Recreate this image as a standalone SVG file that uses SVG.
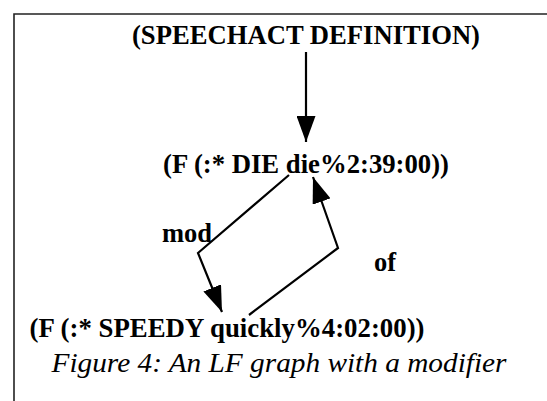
<svg xmlns="http://www.w3.org/2000/svg" width="547" height="401" viewBox="0 0 547 401">
  <defs>
    <style>
      .node { font-family: "Liberation Serif", serif; font-weight: bold; font-size: 26.5px; fill: #000; }
      .label { font-family: "Liberation Serif", serif; font-weight: bold; font-size: 26.5px; fill: #000; }
      .caption { font-family: "Liberation Serif", serif; font-style: italic; font-size: 28px; fill: #000; }
      .edge { fill: none; stroke: #000; stroke-width: 2.2; }
      .frame { fill: none; stroke: #222; stroke-width: 1.6; }
    </style>
    <marker id="head" viewBox="0 0 26 19" refX="26" refY="9.5" markerWidth="26" markerHeight="19" markerUnits="userSpaceOnUse" orient="auto">
      <path d="M0,0 L26,9.5 L0,19 z" fill="#000"/>
    </marker>
  </defs>

  <!-- frame -->
  <path class="frame" d="M14,401 L14,14 L547,14"/>

  <!-- nodes -->
  <g id="speechact">
    <text class="node" x="306" y="44" text-anchor="middle" textLength="348" lengthAdjust="spacingAndGlyphs">(SPEECHACT DEFINITION)</text>
  </g>
  <g id="die">
    <text class="node" x="306" y="173" text-anchor="middle" textLength="286" lengthAdjust="spacingAndGlyphs">(F (:* DIE die%2:39:00))</text>
  </g>
  <g id="speedy">
    <text class="node" x="29.5" y="336.5" textLength="395" lengthAdjust="spacingAndGlyphs">(F (:* SPEEDY quickly%4:02:00))</text>
  </g>

  <!-- connectors -->
  <g id="edges">
    <path class="edge" d="M306,52 L306,142" marker-end="url(#head)"/>
    <path class="edge" d="M289,175 L198,253 L222,312" marker-end="url(#head)"/>
    <path class="edge" d="M249,315 L338,248 L313,177" marker-end="url(#head)"/>
    <text class="label" x="162" y="241.5">mod</text>
    <text class="label" x="374" y="271">of</text>
  </g>

  <!-- caption -->
  <text class="caption" x="51.5" y="371.5" textLength="455" lengthAdjust="spacingAndGlyphs">Figure 4: An LF graph with a modifier</text>
</svg>
